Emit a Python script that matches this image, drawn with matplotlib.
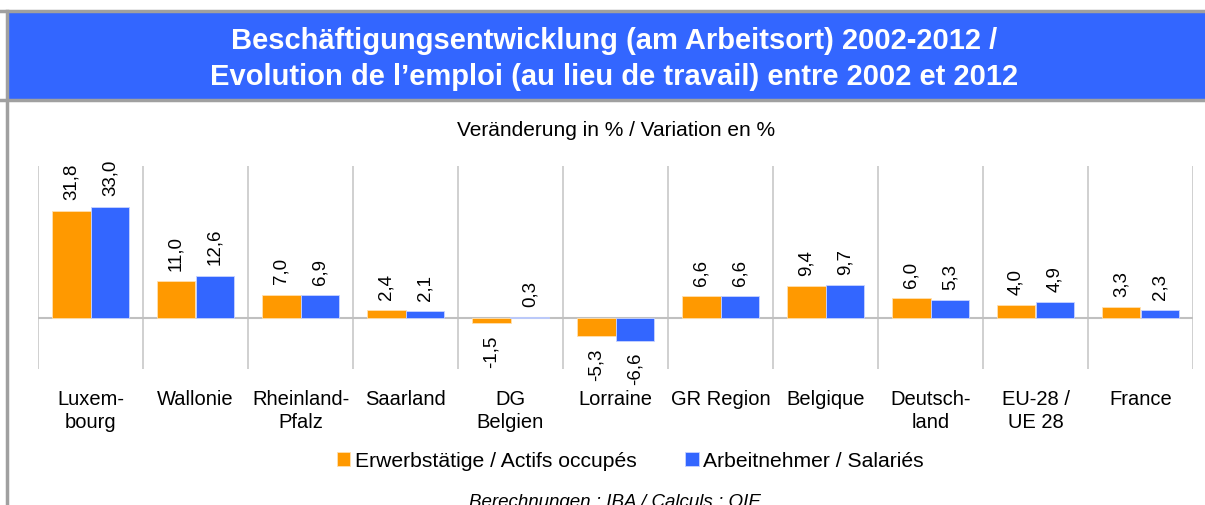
import matplotlib.pyplot as plt
import numpy as np
from matplotlib.patches import Rectangle
from matplotlib.lines import Line2D

plt.rcParams['font.family'] = ['Liberation Sans', 'DejaVu Sans']

regionen = ["Luxem-\nbourg", "Wallonie", "Rheinland-\nPfalz", "Saarland", "DG\nBelgien",
            "Lorraine", "GR Region", "Belgique", "Deutsch-\nland", "EU-28 /\nUE 28", "France"]
erwerbstaetige = [31.8, 11.0, 7.0, 2.4, -1.5, -5.3, 6.6, 9.4, 6.0, 4.0, 3.3]
arbeitnehmer = [33.0, 12.6, 6.9, 2.1, 0.3, -6.6, 6.6, 9.7, 5.3, 4.9, 2.3]

orange = "#FF9900"
blau = "#3366FF"

W, H = 1205, 506
fig = plt.figure(figsize=(W / 100, H / 100), dpi=100)

# rahmen und titelband
fig.patches.append(Rectangle((8 / W, 1 - 101 / H), 1 - 8 / W, 89 / H, transform=fig.transFigure,
                             facecolor=blau, edgecolor="none", zorder=0))
fig.lines.append(Line2D([0, 1], [1 - 12 / H] * 2, transform=fig.transFigure, color="#A0A0A0", lw=2.5))
fig.lines.append(Line2D([0, 1], [1 - 101 / H] * 2, transform=fig.transFigure, color="#A0A0A0", lw=2.5))
fig.lines.append(Line2D([7 / W] * 2, [0, 1 - 12 / H], transform=fig.transFigure, color="#A0A0A0", lw=2.5))

fig.text(614 / W, 1 - 41 / H, "Beschäftigungsentwicklung (am Arbeitsort) 2002-2012 /",
         ha="center", va="center", color="white", fontsize=21, fontweight="bold")
fig.text(614 / W, 1 - 77 / H, "Evolution de l\u2019emploi (au lieu de travail) entre 2002 et 2012",
         ha="center", va="center", color="white", fontsize=21, fontweight="bold")
fig.text(616 / W, 1 - 131 / H, "Veränderung in % / Variation en %",
         ha="center", va="center", fontsize=15)

ax = fig.add_axes([38 / W, 1 - 370 / H, (1193 - 38) / W, (370 - 167) / H])
x = np.arange(len(regionen))
b = 0.37
ax.bar(x - b / 2, erwerbstaetige, b, color=orange, edgecolor="#FFE0B0", linewidth=0.6, zorder=3,
       label="Erwerbstätige / Actifs occupés")
ax.bar(x + b / 2, arbeitnehmer, b, color=blau, edgecolor="#C8D4FF", linewidth=0.6, zorder=3,
       label="Arbeitnehmer / Salariés")

for xs, werte in ((x - b / 2, erwerbstaetige), (x + b / 2, arbeitnehmer)):
    for xi, v in zip(xs, werte):
        txt = f"{v:.1f}".replace(".", ",")
        if v >= 0:
            ax.text(xi, v + 3.3, txt, rotation=90, ha="center", va="bottom", fontsize=13.5)
        else:
            ax.text(xi, v - 3.3, txt, rotation=90, ha="center", va="top", fontsize=13.5)

ax.set_xlim(-0.5, len(regionen) - 0.5)
ax.set_ylim(-15, 45)
for g in np.arange(-0.5, len(regionen)):
    ax.axvline(g, color="#C8C8C8", lw=1.2, zorder=1)
ax.axhline(0, color="#C0C0C0", lw=1.5, zorder=2)
for s in ax.spines.values():
    s.set_visible(False)
ax.set_yticks([])
ax.set_xticks([])

for xi, name in zip(x, regionen):
    ax.text(xi, -21.0, name, ha="center", va="top", fontsize=14.5, linespacing=1.25)

fig.legend(loc="center", bbox_to_anchor=(630 / W, 1 - 462 / H), ncol=2, frameon=False,
           fontsize=15.2, handlelength=0.65, handleheight=0.65, handletextpad=0.2, columnspacing=2.3)

fig.text(615 / W, 1 - 503 / H, "Berechnungen : IBA / Calculs : OIE", ha="center", va="center",
         fontsize=13.5, style="italic")

fig.savefig("out.png", dpi=100)
